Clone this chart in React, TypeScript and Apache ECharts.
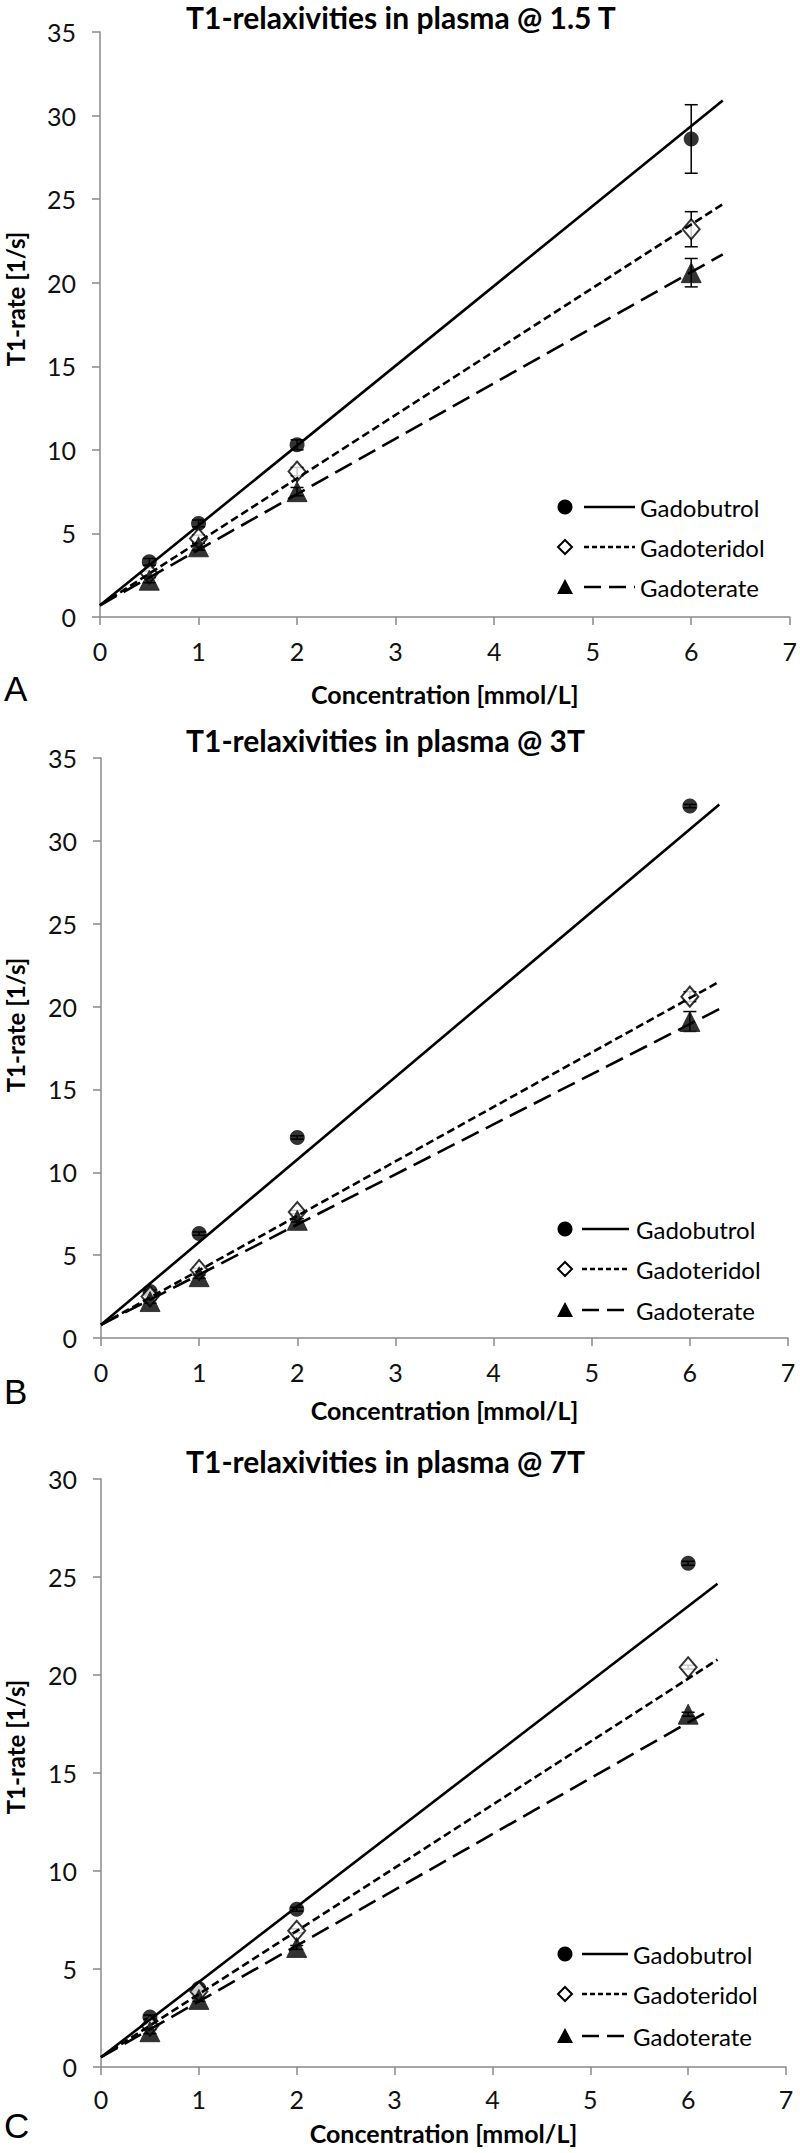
import React, { useEffect, useRef } from "react";
import * as echarts from "echarts";

// ---------- data ----------
const concentrations = [0.5, 1, 2, 6];
const agentNames = ["Gadobutrol", "Gadoteridol", "Gadoterate"];
const panelTitles = [
  "T1-relaxivities in plasma @ 1.5 T",
  "T1-relaxivities in plasma @ 3T",
  "T1-relaxivities in plasma @ 7T",
];
const panelLetters = ["A", "B", "C"];
const yAxisMax = [35, 35, 30];
const xAxisMax = 7;
const yAxisName = "T1-rate [1/s]";
const xAxisName = "Concentration [mmol/L]";

// Panel A (1.5 T)
const gadobutrolA = [3.3, 5.6, 10.3, 28.6];
const gadoteridolA = [2.6, 4.7, 8.7, 23.2];
const gadoterateA = [2.2, 4.2, 7.5, 20.6];
const gadobutrolErrA = [0.2, 0.2, 0.3, 2.05];
const gadoteridolErrA = [0.15, 0.2, 0.25, 1.05];
const gadoterateErrA = [0.15, 0.2, 0.25, 0.85];
const trendInterceptA = 0.7;
const trendEndXA = [6.32, 6.32, 6.32];
const trendEndYA = [30.9, 24.7, 21.7];

// Panel B (3 T)
const gadobutrolB = [2.8, 6.3, 12.1, 32.1];
const gadoteridolB = [2.5, 4.1, 7.6, 20.6];
const gadoterateB = [2.2, 3.7, 7.1, 19.1];
const gadobutrolErrB = [0.1, 0.1, 0.1, 0.1];
const gadoteridolErrB = [0.1, 0.1, 0.1, 0.3];
const gadoterateErrB = [0.1, 0.1, 0.1, 0.6];
const trendInterceptB = 0.8;
const trendEndXB = [6.3, 6.3, 6.3];
const trendEndYB = [32.2, 21.5, 19.85];

// Panel C (7 T)
const gadobutrolC = [2.55, 4.0, 8.05, 25.7];
const gadoteridolC = [2.1, 3.85, 6.95, 20.4];
const gadoterateC = [1.8, 3.45, 6.1, 18.0];
const gadobutrolErrC = [0.1, 0.1, 0.1, 0.1];
const gadoteridolErrC = [0.1, 0.1, 0.1, 0.1];
const gadoterateErrC = [0.1, 0.1, 0.1, 0.1];
const trendInterceptC = 0.5;
const trendEndXC = [6.3, 6.3, 6.21];
const trendEndYC = [24.66, 20.78, 18.17];

const panels = [
  {
    values: [gadobutrolA, gadoteridolA, gadoterateA],
    errors: [gadobutrolErrA, gadoteridolErrA, gadoterateErrA],
    intercept: trendInterceptA,
    endX: trendEndXA,
    endY: trendEndYA,
  },
  {
    values: [gadobutrolB, gadoteridolB, gadoterateB],
    errors: [gadobutrolErrB, gadoteridolErrB, gadoterateErrB],
    intercept: trendInterceptB,
    endX: trendEndXB,
    endY: trendEndYB,
  },
  {
    values: [gadobutrolC, gadoteridolC, gadoterateC],
    errors: [gadobutrolErrC, gadoteridolErrC, gadoterateErrC],
    intercept: trendInterceptC,
    endX: trendEndXC,
    endY: trendEndYC,
  },
];

// ---------- layout / style ----------
const FONT = "Lato";
const grids = [
  { left: 100, top: 32, width: 694, height: 585 },
  { left: 101, top: 758, width: 687, height: 580 },
  { left: 101, top: 1479, width: 685, height: 588 },
];
const titleY = [17, 740, 1461];
const yNameY = [299, 1025, 1747];
const letterY = [688, 1391, 2125];
const xLabelMargin = [23, 23, 21];
const xNameGap = [66, 61, 55];
const legendRowsY = [
  [507, 547, 587],
  [1229, 1269, 1310],
  [1954, 1994, 2036],
];
const legendTextX = [640, 636, 633];
const legendLineX1 = [584, 582, 582];
const legendLineX2 = [635, 629, 628];
const legendMarkerX = 565;

const symbols = ["circle", "diamond", "triangle"];
const symbolSizes = [15, [17, 20], 20];
const dashTypes: any[] = ["solid", [8, 4], [19, 8]];
const legendDash: any[] = [null, [5, 3], [17, 8]];

export default function App() {
  const ref = useRef<HTMLDivElement>(null);

  useEffect(() => {
    if (!ref.current) return;
    const chart = echarts.init(ref.current, undefined, { renderer: "svg" });

    const xAxes: any[] = [];
    const yAxes: any[] = [];
    const series: any[] = [];
    const graphics: any[] = [];

    grids.forEach((g, i) => {
      xAxes.push({
        gridIndex: i,
        type: "value",
        min: 0,
        max: xAxisMax,
        interval: 1,
        name: xAxisName,
        nameLocation: "middle",
        nameGap: xNameGap[i],
        nameTextStyle: { fontFamily: FONT, fontWeight: "bold", fontSize: 25, lineHeight: 22, color: "#000" },
        axisLine: { show: true, lineStyle: { color: "#8a8a8a", width: 1.5 } },
        axisTick: { show: true, length: 8, lineStyle: { color: "#8a8a8a", width: 1.5 } },
        axisLabel: { fontFamily: FONT, fontSize: 25, lineHeight: 22, color: "#111", margin: xLabelMargin[i] },
        splitLine: { show: false },
      });
      yAxes.push({
        gridIndex: i,
        type: "value",
        min: 0,
        max: yAxisMax[i],
        interval: 5,
        axisLine: { show: true, lineStyle: { color: "#8a8a8a", width: 1.5 } },
        axisTick: { show: true, length: 8, lineStyle: { color: "#8a8a8a", width: 1.5 } },
        axisLabel: { fontFamily: FONT, fontSize: 25, lineHeight: 22, color: "#111", margin: 24 },
        splitLine: { show: false },
      });

      const p = panels[i];
      agentNames.forEach((name, k) => {
        // error bars
        series.push({
          type: "custom",
          name: name + " error",
          xAxisIndex: i,
          yAxisIndex: i,
          z: 1,
          silent: true,
          data: concentrations.map((c, j) => [c, p.values[k][j] - p.errors[k][j], p.values[k][j] + p.errors[k][j]]),
          renderItem: (params: any, api: any) => {
            const x = api.value(0);
            const top = api.coord([x, api.value(2)]);
            const bot = api.coord([x, api.value(1)]);
            const w = 6.5;
            const st = { stroke: "#000", lineWidth: 1.5 };
            return {
              type: "group",
              children: [
                { type: "line", shape: { x1: top[0], y1: top[1], x2: bot[0], y2: bot[1] }, style: st },
                { type: "line", shape: { x1: top[0] - w, y1: top[1], x2: top[0] + w, y2: top[1] }, style: st },
                { type: "line", shape: { x1: bot[0] - w, y1: bot[1], x2: bot[0] + w, y2: bot[1] }, style: st },
              ],
            };
          },
        });
        // points
        series.push({
          type: "scatter",
          name,
          xAxisIndex: i,
          yAxisIndex: i,
          z: 2,
          symbol: symbols[k],
          symbolSize: symbolSizes[k],
          itemStyle:
            k === 1
              ? { color: "#fff", borderColor: "#000", borderWidth: 2 }
              : k === 2
              ? { color: "#000", borderColor: "#1e1e1e", borderWidth: 1 }
              : { color: "#000" },
          data: concentrations.map((c, j) => [c, p.values[k][j]]),
        });
        // trend lines
        series.push({
          type: "line",
          name: name + " trend",
          xAxisIndex: i,
          yAxisIndex: i,
          z: 3,
          symbol: "none",
          silent: true,
          lineStyle: { color: "#000", width: 2.6, type: dashTypes[k] },
          data: [
            [0, p.intercept],
            [p.endX[k], p.endY[k]],
          ],
        });
      });

      // titles, axis names, letters
      graphics.push({
        type: "text",
        x: 186,
        y: titleY[i],
        style: {
          text: panelTitles[i],
          font: `bold 30px ${FONT}`,
          fill: "#000",
          align: "left",
          verticalAlign: "middle",
          textAlign: "left",
          textVerticalAlign: "middle",
        },
      });
      graphics.push({
        type: "text",
        x: 15,
        y: yNameY[i],
        rotation: Math.PI / 2,
        style: {
          text: yAxisName,
          font: `bold 24px ${FONT}`,
          fill: "#000",
          align: "center",
          verticalAlign: "middle",
          textAlign: "center",
          textVerticalAlign: "middle",
        },
      });
      graphics.push({
        type: "text",
        x: 4,
        y: letterY[i],
        style: {
          text: panelLetters[i],
          font: `35px "Liberation Sans"`,
          fill: "#000",
          align: "left",
          verticalAlign: "middle",
          textAlign: "left",
          textVerticalAlign: "middle",
        },
      });

      // legend
      const rows = legendRowsY[i];
      rows.forEach((ry, k) => {
        if (k === 0) {
          graphics.push({ type: "circle", shape: { cx: legendMarkerX, cy: ry, r: 7.5 }, style: { fill: "#000" } });
        } else if (k === 1) {
          graphics.push({
            type: "polygon",
            shape: { points: [[legendMarkerX, ry - 7], [legendMarkerX + 7, ry], [legendMarkerX, ry + 7], [legendMarkerX - 7, ry]] },
            style: { fill: "#fff", stroke: "#000", lineWidth: 2 },
          });
        } else {
          graphics.push({
            type: "polygon",
            shape: { points: [[legendMarkerX, ry - 8], [legendMarkerX + 8, ry + 7], [legendMarkerX - 8, ry + 7]] },
            style: { fill: "#000" },
          });
        }
        graphics.push({
          type: "line",
          shape: { x1: legendLineX1[i], y1: ry, x2: legendLineX2[i], y2: ry },
          style: { stroke: "#000", lineWidth: 2.5, lineDash: legendDash[k] },
        });
        graphics.push({
          type: "text",
          x: legendTextX[i],
          y: ry,
          style: {
            text: agentNames[k],
            font: `24px ${FONT}`,
            fill: "#000",
            align: "left",
            verticalAlign: "middle",
            textAlign: "left",
            textVerticalAlign: "middle",
          },
        });
      });
    });

    chart.setOption({
      animation: false,
      backgroundColor: "#fff",
      grid: grids.map((g) => ({ ...g, containLabel: false })),
      xAxis: xAxes,
      yAxis: yAxes,
      series,
      graphic: graphics,
    });

    return () => chart.dispose();
  }, []);

  return (
    <div
      ref={ref}
      style={{ position: "absolute", left: 0, top: 0, width: 800, height: 2153, background: "#fff" }}
    />
  );
}
